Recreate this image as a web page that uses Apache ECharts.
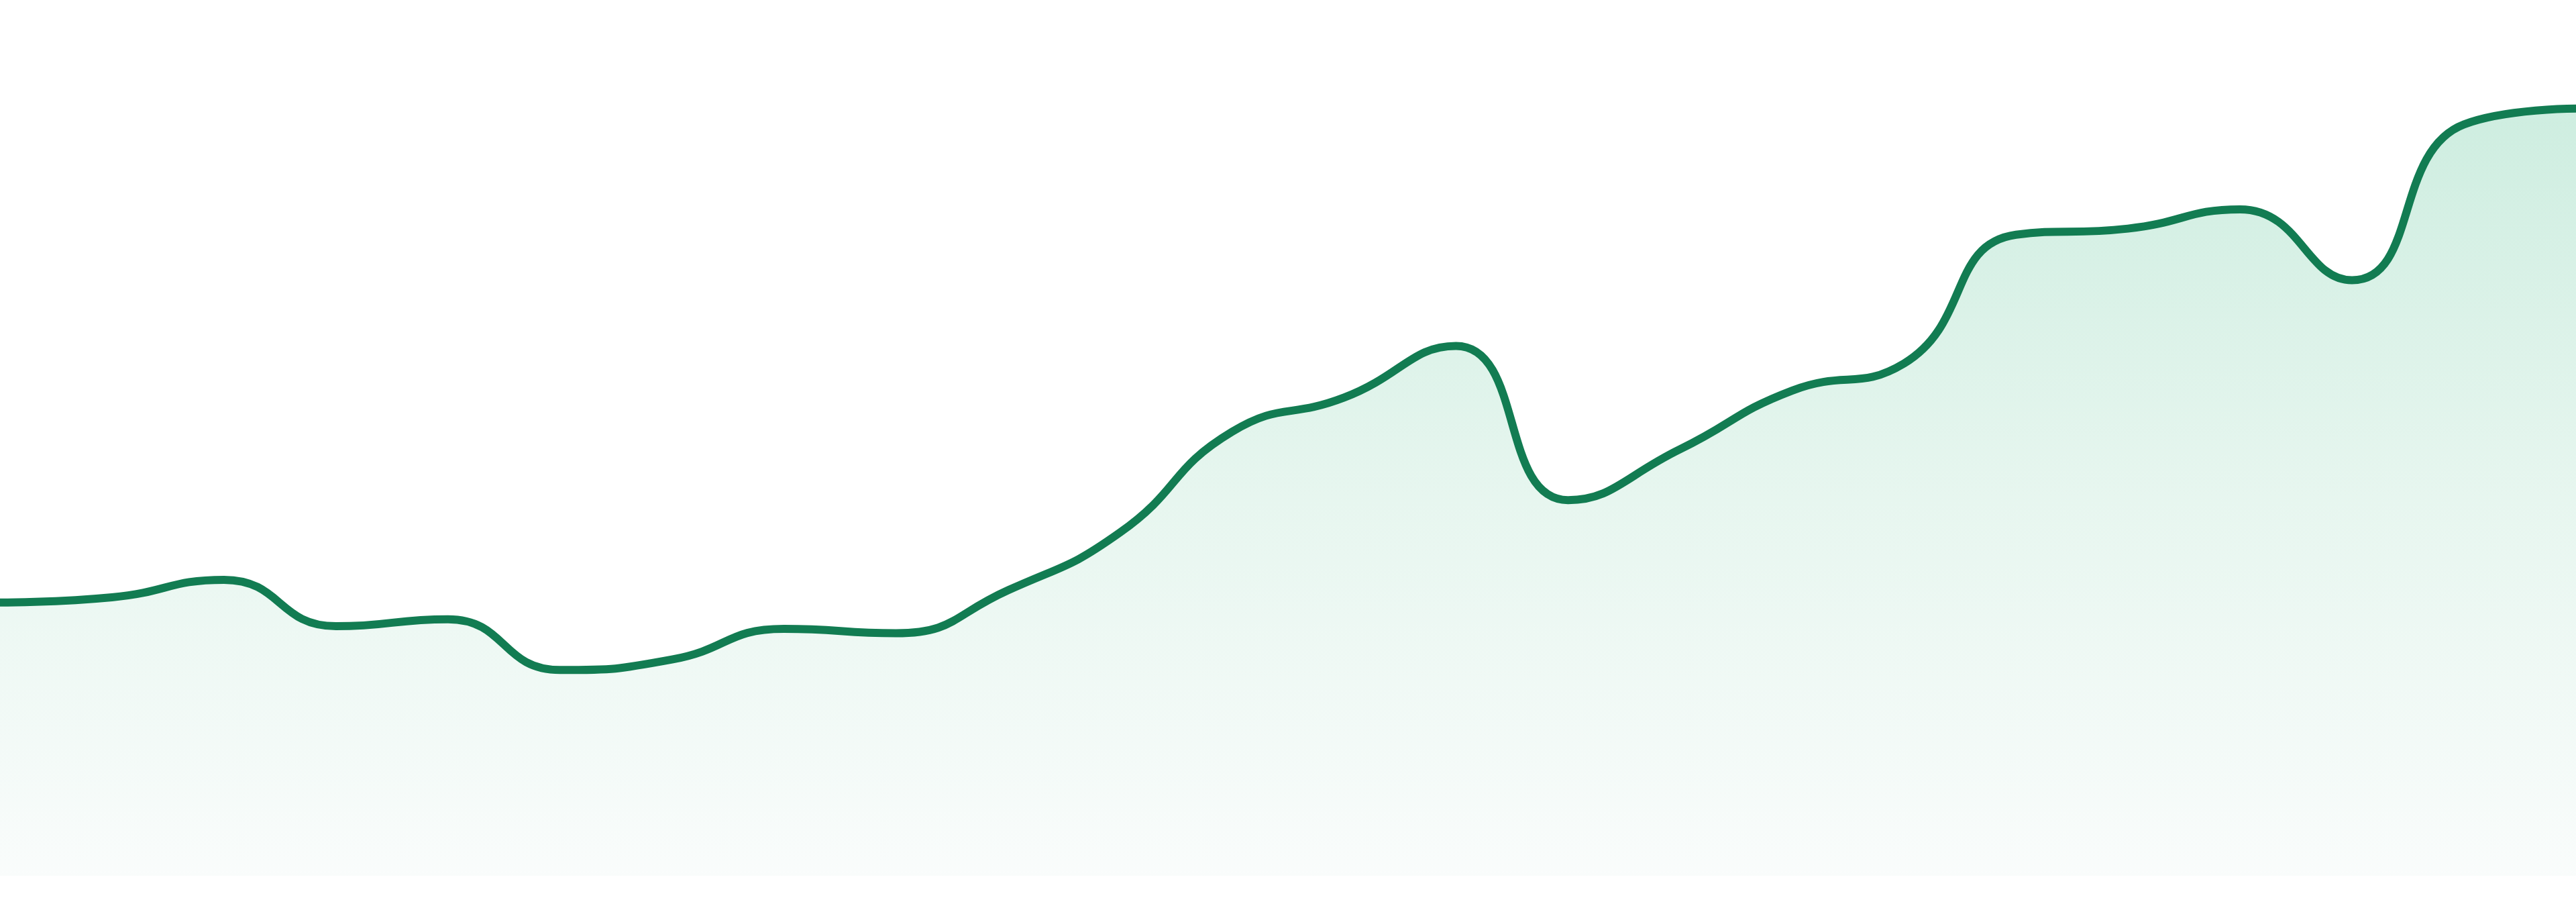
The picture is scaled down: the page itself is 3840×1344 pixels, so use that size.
<!DOCTYPE html>
<html>
<head>
<meta charset="utf-8">
<script src="https://cdn.jsdelivr.net/npm/echarts@6/dist/echarts.min.js"></script>
<style>
html,body{margin:0;padding:0;background:#ffffff;}
#chart{width:3840px;height:1344px;}
</style>
</head>
<body>
<div id="chart"></div>
<script>
const categories = ['1','2','3','4','5','6','7','8','9','10','11','12','13','14','15','16','17','18','19','20','21','22','23','24'];
const values = [31.2,31.8,33.8,28.5,29.3,23.5,24.7,28.2,27.7,32.6,39.2,50.7,54.6,60.5,42.9,48.7,55.4,58.5,73.2,73.9,76.1,68.0,85.8,87.6];
const yMin = 0;
const yMax = 100;

const chart = echarts.init(document.getElementById('chart'), null, {renderer:'canvas'});
chart.setOption({
  animation:false,
  backgroundColor:'#ffffff',
  grid:{left:0,right:0,top:0,bottom:39,containLabel:false},
  xAxis:{type:'category',data:categories,boundaryGap:false,show:false},
  yAxis:{type:'value',min:yMin,max:yMax,show:false,splitLine:{show:false}},
  series:[{
    type:'line',
    data:values,
    smooth:0.5,
    showSymbol:false,
    symbol:'none',
    lineStyle:{color:'#127c52',width:12},
    areaStyle:{
      color:new echarts.graphic.LinearGradient(0,0,0,1,[
        {offset:0,color:'#b9e6d3'},
        {offset:0.5,color:'#dcf2e8'},
        {offset:1,color:'#f7fbfa'}
      ])
    }
  }]
});
</script>
</body>
</html>
